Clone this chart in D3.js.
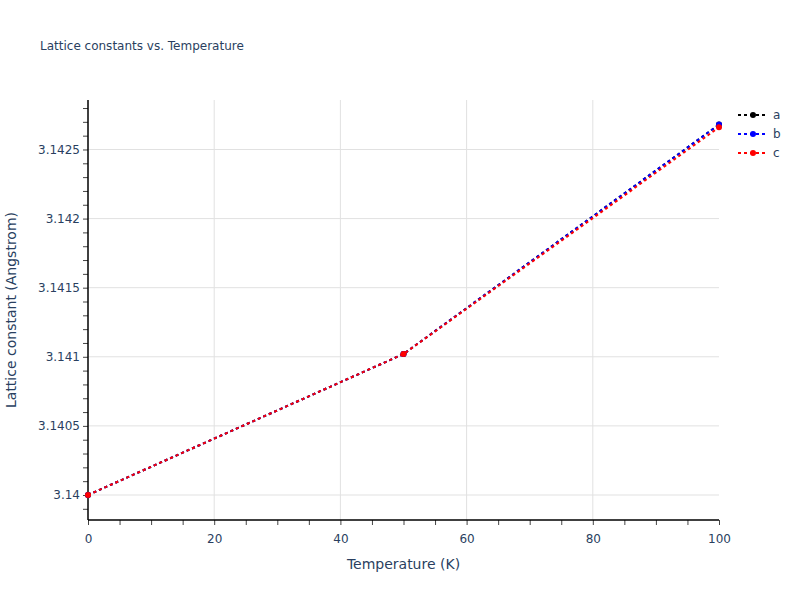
<!DOCTYPE html>
<html lang="en">
<head>
<meta charset="utf-8">
<title>Lattice constants vs. Temperature</title>
<style>
  body { margin: 0; background: #fff; }
  svg text { font-family: "DejaVu Sans", Verdana, sans-serif; fill: #2a3f5f; }
</style>
</head>
<body>
<div id="chart"></div>
<script src="https://d3js.org/d3.v7.min.js"></script>
<script>
// values
const temps = [0, 50, 100];
const seriesNames = ["a", "b", "c"];
const aVals = [3.14, 3.14102, 3.14268];
const bVals = [3.14, 3.14102, 3.14268];
const cVals = [3.14, 3.14102, 3.14266];
const xTicks = [0, 20, 40, 60, 80, 100];
const yTicks = [3.14, 3.1405, 3.141, 3.1415, 3.142, 3.1425];
const colors = ["#000000", "#0000ff", "#ff0000"];

const series = seriesNames.map((n, i) => ({
  name: n, color: colors[i],
  values: [aVals, bVals, cVals][i].map((v, j) => ({t: temps[j], v: v}))
}));

const w = 800, h = 600;
const pLeft = 88, pRight = 719, pTop = 100, pBottom = 520;

const svg = d3.select("#chart").append("svg")
  .attr("width", w).attr("height", h);

const x = d3.scaleLinear().domain([0, 100]).range([pLeft, pRight]);
const y = d3.scaleLinear().domain([3.139819, 3.142858]).range([pBottom, pTop]);

// grid
svg.append("g").selectAll("line").data(xTicks.slice(1, -1)).enter().append("line")
  .attr("x1", d => x(d)).attr("x2", d => x(d))
  .attr("y1", pTop).attr("y2", pBottom)
  .attr("stroke", "#e1e1e1").attr("stroke-width", 1);
svg.append("g").selectAll("line").data(yTicks).enter().append("line")
  .attr("x1", pLeft).attr("x2", pRight)
  .attr("y1", d => y(d)).attr("y2", d => y(d))
  .attr("stroke", "#e1e1e1").attr("stroke-width", 1);

// minor ticks
const xMinor = d3.range(0, 100.1, 5);
const yMinor = d3.range(0, 31).map(i => 3.1398 + i * 0.0001).filter(v => y(v) >= pTop && y(v) <= pBottom);

const xAxis = svg.append("g").attr("transform", `translate(0,${pBottom})`);
xAxis.call(d3.axisBottom(x).tickValues(xMinor).tickSize(5).tickFormat(""));
xAxis.call(g => g.selectAll(".tick line").attr("stroke", "#444"));
const xMajor = svg.append("g").attr("transform", `translate(0,${pBottom})`)
  .call(d3.axisBottom(x).tickValues(xTicks).tickSize(0).tickPadding(14).tickFormat(d3.format("d")));
xMajor.select(".domain").remove();
xMajor.selectAll("text").attr("font-size", 12).style("fill", "#2a3f5f");

const yAxis = svg.append("g").attr("transform", `translate(${pLeft},0)`);
yAxis.call(d3.axisLeft(y).tickValues(yMinor).tickSize(5).tickFormat(""));
yAxis.call(g => g.selectAll(".tick line").attr("stroke", "#444"));
const yMajor = svg.append("g").attr("transform", `translate(${pLeft},0)`)
  .call(d3.axisLeft(y).tickValues(yTicks).tickSize(0).tickPadding(8).tickFormat(d => +d.toFixed(4) + ""));
yMajor.select(".domain").remove();
yMajor.selectAll("text").attr("font-size", 12).style("fill", "#2a3f5f");

// axis lines
svg.append("line").attr("x1", pLeft).attr("x2", pRight).attr("y1", pBottom).attr("y2", pBottom)
  .attr("stroke", "#000").attr("stroke-width", 1.5);
svg.append("line").attr("x1", pLeft).attr("x2", pLeft).attr("y1", pTop).attr("y2", pBottom)
  .attr("stroke", "#000").attr("stroke-width", 1.5);
xAxis.select(".domain").remove();
yAxis.select(".domain").remove();

// series
const line = d3.line().x(d => x(d.t)).y(d => y(d.v));
const sg = svg.append("g").selectAll("g").data(series).enter().append("g");
sg.append("path")
  .attr("d", d => line(d.values))
  .attr("fill", "none").attr("stroke", d => d.color)
  .attr("stroke-width", 2).attr("stroke-dasharray", "3,3");
sg.each(function(s) {
  d3.select(this).selectAll("circle").data(s.values).enter().append("circle")
    .attr("cx", d => x(d.t)).attr("cy", d => y(d.v)).attr("r", 3)
    .attr("fill", s.color);
});

// titles
svg.append("text").attr("x", 40).attr("y", 50).attr("font-size", 12)
  .text("Lattice constants vs. Temperature");
svg.append("text").attr("x", (pLeft + pRight) / 2).attr("y", 569)
  .attr("text-anchor", "middle").attr("font-size", 14).text("Temperature (K)");
svg.append("text")
  .attr("transform", `translate(16,${(pTop + pBottom) / 2}) rotate(-90)`)
  .attr("text-anchor", "middle").attr("font-size", 14).text("Lattice constant (Angstrom)");

// legend
const lg = svg.append("g").selectAll("g").data(series).enter().append("g")
  .attr("transform", (d, i) => `translate(738,${115 + i * 19})`);
lg.append("line").attr("x1", 0).attr("x2", 30).attr("y1", 0).attr("y2", 0)
  .attr("stroke", d => d.color).attr("stroke-width", 2).attr("stroke-dasharray", "3,3");
lg.append("circle").attr("cx", 15).attr("cy", 0).attr("r", 3).attr("fill", d => d.color);
lg.append("text").attr("x", 35).attr("y", 4).attr("font-size", 12).text(d => d.name);
</script>
</body>
</html>
